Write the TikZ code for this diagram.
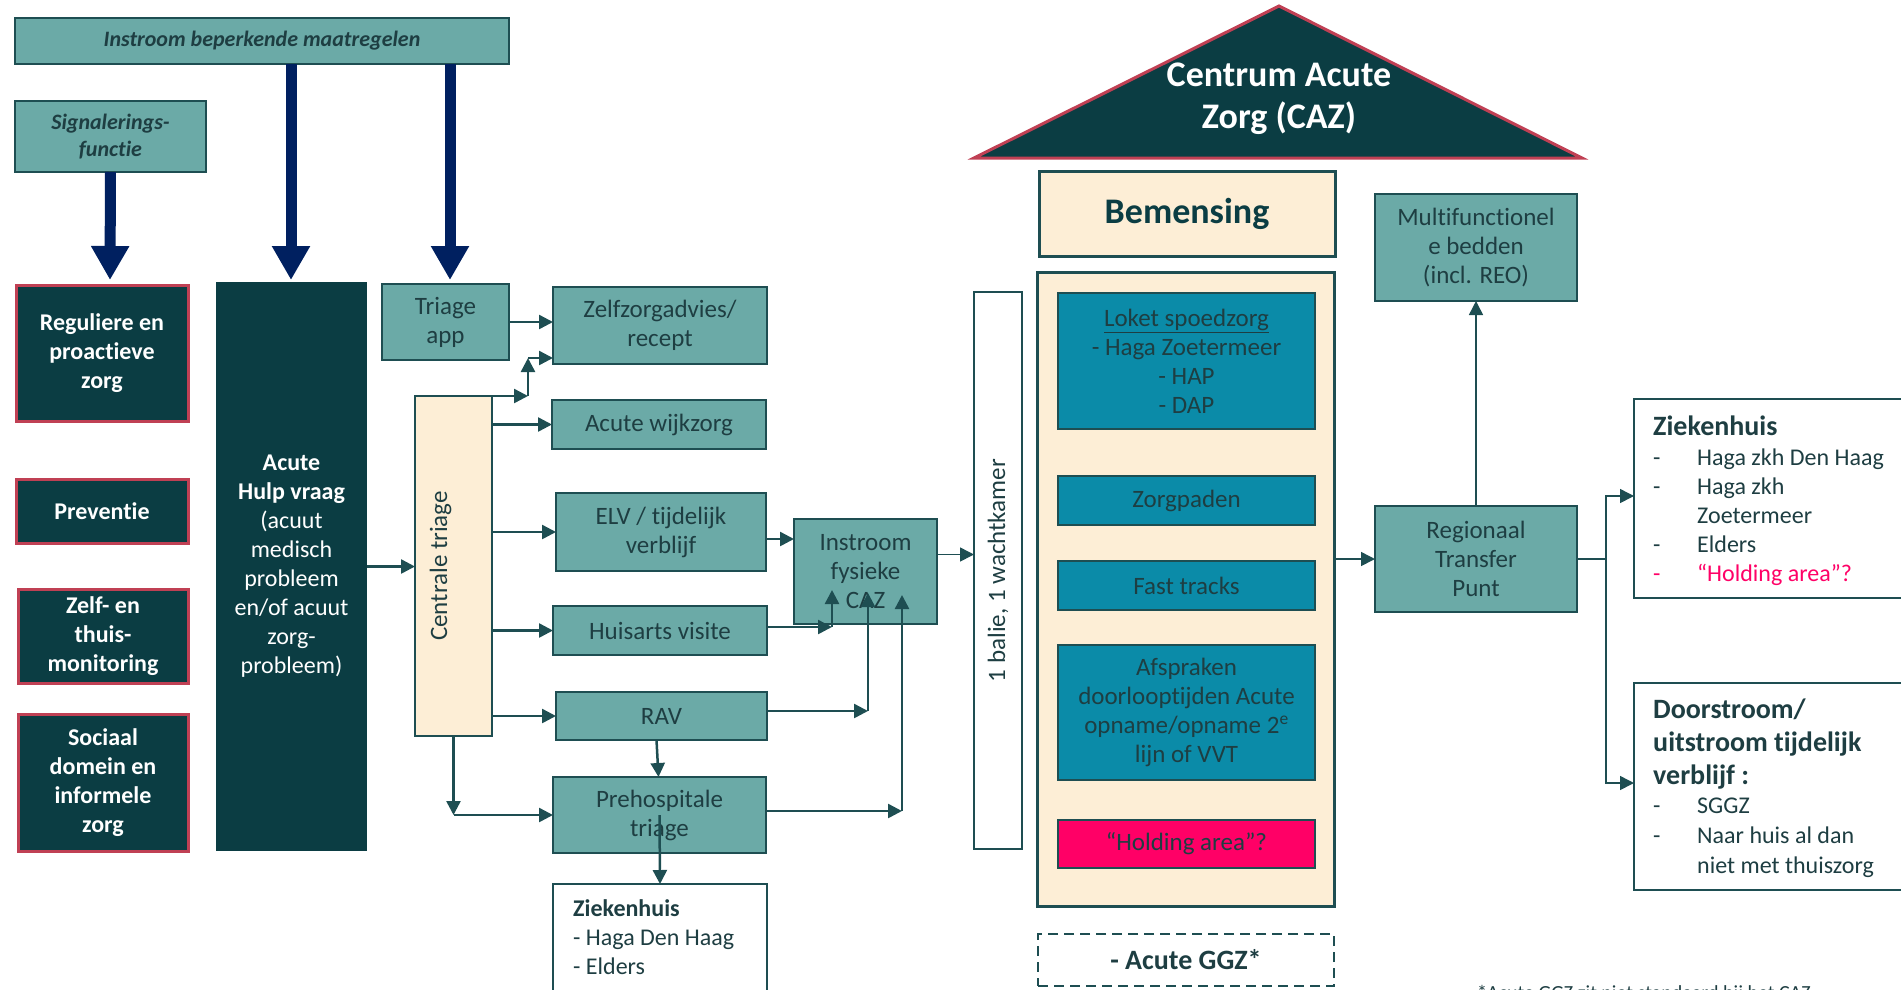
\documentclass[tikz,border=0pt]{standalone}
\usepackage{fontspec}
\setmainfont{Carlito}[Ligatures={TeX,NoCommon}]
\usepackage{graphicx}
\usetikzlibrary{arrows.meta}
\definecolor{tealfill}{RGB}{107,170,167}
\definecolor{boxline}{RGB}{30,78,82}
\definecolor{darkfill}{RGB}{11,61,67}
\definecolor{redline}{RGB}{192,64,84}
\definecolor{creamfill}{RGB}{253,238,214}
\definecolor{blueteal}{RGB}{11,139,168}
\definecolor{hotpink}{RGB}{255,0,102}
\definecolor{navyarr}{RGB}{0,32,96}
\definecolor{txtc}{RGB}{30,62,66}
\tikzset{
  wh/.style 2 args={minimum width=#1, minimum height=#2},
  base/.style={anchor=north west, inner sep=0pt, outer sep=0pt, align=center, font=\fontsize{25}{29}\selectfont},
  tealbox/.style={base, draw=boxline, line width=2.5pt, fill=tealfill, text=txtc},
  darkbox/.style={base, draw=redline, line width=3pt, fill=darkfill, text=white, font=\fontsize{24}{29}\selectfont\bfseries},
  creambox/.style={base, draw=boxline, line width=2.5pt, fill=creamfill, text=txtc},
  bluebox/.style={base, draw=boxline, line width=2pt, fill=blueteal, text=txtc},
  whitebox/.style={base, draw=boxline, line width=2.5pt, fill=white, text=txtc},
  listtxt/.style={anchor=north west, inner sep=0pt, align=left, text=txtc},
  arr/.style={draw=boxline, line width=2.5pt, -{Triangle[length=14pt,width=14pt]}},
  thinarr/.style={draw=boxline, line width=1.5pt, -{Triangle[length=14pt,width=14pt]}},
  bigarr/.style={draw=navyarr, line width=11pt, -{Triangle[length=34pt,width=36pt]}},
}

\begin{document}
\begin{tikzpicture}[x=1pt,y=-1pt]
  \path[use as bounding box, clip] (0,0) rectangle (1901,989);

  % instroom en signalering
  \node[tealbox, wh={494pt}{46pt}, font=\fontsize{22}{27}\selectfont\bfseries\itshape] (ib) at (15,18) {Instroom beperkende maatregelen};
  \node[tealbox, wh={191pt}{71pt}, font=\fontsize{22}{27}\selectfont\bfseries\itshape] (sf) at (15,101) {Signalerings-\\functie};

  % linker kolom
  \node[darkbox, wh={172pt}{136pt}] (rg) at (16,285) {Reguliere en\\proactieve\\zorg};
  \node[darkbox, wh={172pt}{64pt}] (pv) at (16,479) {Preventie};
  \node[darkbox, wh={170pt}{94pt}] (zt) at (18,589) {Zelf- en\\thuis-\\monitoring};
  \node[darkbox, wh={170pt}{137pt}] (sd) at (18,714) {Sociaal\\domein en\\informele\\zorg};
  \node[darkbox, draw=none, wh={151pt}{569pt}, font=\fontsize{24}{29}\selectfont] (ah) at (216,282)
    {{\bfseries Acute}\\{\bfseries Hulp vraag}\\(acuut\\medisch\\probleem\\en/of acuut\\zorg-\\probleem)};

  % triage
  \node[tealbox, wh={127pt}{76pt}] (ta) at (382,284) {Triage\\app};
  \node[creambox, wh={77pt}{340pt}, line width=2pt] (ct) at (415,396) {\hspace*{-26pt}\rotatebox{90}{Centrale triage}};
  \node[tealbox, wh={214pt}{77pt}] (zz) at (553,287) {Zelfzorgadvies/\\recept};
  \node[tealbox, wh={214pt}{49pt}] (aw) at (552,400) {Acute wijkzorg};
  \node[tealbox, wh={210pt}{78pt}] (elv) at (556,493) {ELV / tijdelijk\\verblijf};
  \node[tealbox, wh={214pt}{49pt}] (hv) at (553,606) {Huisarts visite};
  \node[tealbox, wh={211pt}{48pt}] (rav) at (556,692) {RAV};
  \node[tealbox, wh={213pt}{76pt}] (ph) at (553,777) {Prehospitale\\triage};
  \node[whitebox, wh={214pt}{130pt}] (zl) at (553,884) {};
  \node[listtxt, font=\fontsize{24}{29}\selectfont] (zlt) at (573,899) {{\bfseries Ziekenhuis}\\- Haga Den Haag\\- Elders};
  \node[tealbox, wh={143pt}{105pt}] (ifc) at (794,519) {Instroom\\fysieke\\CAZ};
  \node[whitebox, wh={48pt}{557pt}, line width=2pt] (bal) at (974,292) {\rotatebox{90}{1 balie, 1 wachtkamer}};

  % CAZ
  \draw[draw=redline, line width=3pt, fill=darkfill] (974,158) -- (1279,6) -- (1582,158) -- cycle;
  \node[inner sep=0pt, align=center, text=white, font=\fontsize{36}{42}\selectfont\bfseries] (roof) at (1279,99) {Centrum Acute\\Zorg (CAZ)};
  \node[creambox, wh={296pt}{85pt}, line width=3pt, text=darkfill, font=\fontsize{36}{42}\selectfont\bfseries] (bm) at (1039,171) {Bemensing};
  \node[creambox, wh={297pt}{634pt}, line width=3pt] (cb) at (1037,272) {};
  \node[bluebox, wh={257pt}{136pt}] (lk) at (1058,293) {\underline{Loket spoedzorg}\\- Haga Zoetermeer\\- HAP\\- DAP};
  \node[bluebox, wh={257pt}{49pt}] (zp) at (1058,476) {Zorgpaden};
  \node[bluebox, wh={257pt}{49pt}] (ft) at (1058,561) {Fast tracks};
  \node[bluebox, wh={257pt}{135pt}] (af) at (1058,645) {Afspraken\\doorlooptijden Acute\\opname/opname 2\textsuperscript{e}\\lijn of VVT};
  \node[bluebox, fill=hotpink, wh={257pt}{48pt}] (ha) at (1058,820) {“Holding area”?};
  \node[base, draw=boxline, line width=2.5pt, dash pattern=on 10pt off 6pt, text=txtc, wh={296pt}{52pt}, font=\fontsize{28}{32}\selectfont\bfseries] (gz) at (1038,934) {- Acute GGZ*};

  % uitstroom
  \node[tealbox, wh={202pt}{107pt}] (mf) at (1375,194) {Multifunctionel\\e bedden\\(incl. REO)};
  \node[tealbox, wh={202pt}{106pt}] (rtp) at (1375,506) {Regionaal\\Transfer\\Punt};
  \node[whitebox, wh={280pt}{199pt}] (zr) at (1634,399) {};
  \node[listtxt, font=\fontsize{28}{33}\selectfont\bfseries] (zrh) at (1653,416) {Ziekenhuis};
  \node[listtxt, font=\fontsize{24}{29}\selectfont] (zri) at (1653,449)
    {\makebox[44pt][l]{-}Haga zkh Den Haag\\\makebox[44pt][l]{-}Haga zkh\\\hspace*{44pt}Zoetermeer\\\makebox[44pt][l]{-}Elders\\{\color{hotpink}\makebox[44pt][l]{-}“Holding area”?}};
  \node[whitebox, wh={280pt}{207pt}] (dr) at (1634,683) {};
  \node[listtxt, font=\fontsize{28}{33}\selectfont\bfseries] (drh) at (1653,699) {Doorstroom/\\uitstroom tijdelijk\\verblijf :};
  \node[listtxt, font=\fontsize{24}{30}\selectfont] (dri) at (1653,798)
    {\makebox[44pt][l]{-}SGGZ\\\makebox[44pt][l]{-}Naar huis al dan\\\hspace*{44pt}niet met thuiszorg};
  \node[anchor=base west, inner sep=0pt, text=txtc, font=\fontsize{20}{24}\selectfont] (fn) at (1477,999) {*Acute GGZ zit niet standaard bij het CAZ};

  % dikke pijlen
  \coordinate (n1) at (110,280);
  \coordinate (n2) at (291,280);
  \coordinate (n3) at (450,280);
  \draw[bigarr] (sf.south) -- (n1);
  \draw[bigarr] (ib.south -| n2) -- (n2);
  \draw[bigarr] (ib.south -| n3) -- (n3);

  % verbindingen triage
  \coordinate (k1) at (528,396);
  \coordinate (k2) at (528,358);
  \draw[arr] (ah.east) -- (ct.west |- ah.east);
  \draw[arr] (ta.east) -- (ta.east -| zz.west);
  \draw[arr] (ct.north east) -- (k1);
  \draw[arr] (k1) -- (k2);
  \draw[arr] (k2) -- (k2 -| zz.west);
  \draw[arr] (ct.east |- aw.west) -- (aw.west);
  \draw[arr] (ct.east |- elv.west) -- (elv.west);
  \draw[arr] (ct.east |- hv.west) -- (hv.west);
  \draw[arr] (ct.east |- rav.west) -- (rav.west);
  \coordinate (c1) at (ct.south |- ph.west);
  \draw[arr] (ct.south) -- (c1);
  \draw[arr] (c1) -- (ph.west);
  \draw[arr] ([xshift=-5pt]rav.south) -- ([xshift=-1pt]ph.north);
  \draw[arr] (ph.center) -- (zl.north);

  % naar instroom fysieke CAZ
  \coordinate (h1) at (832,627);
  \coordinate (h2) at (832,590);
  \coordinate (r1) at (868,711);
  \coordinate (r2) at (868,593);
  \coordinate (p1) at (902,811);
  \coordinate (p2) at (902,595);
  \draw[arr] ([yshift=-7pt]elv.east) -- ([yshift=-7pt]elv.east -| ifc.west);
  \draw[arr] (hv.east |- h1) -- (h1);
  \draw[arr] (h1) -- (h2);
  \draw[arr] (rav.east |- r1) -- (r1);
  \draw[arr] (r1) -- (r2);
  \draw[arr] (ph.east |- p1) -- (p1);
  \draw[arr] (p1) -- (p2);
  \draw[thinarr] ([yshift=17pt]ifc.east) -- ([yshift=17pt]ifc.east -| bal.west);

  % uitstroom
  \coordinate (s1) at (1606,559);
  \coordinate (sa) at (1606,496);
  \coordinate (sb) at (1606,783);
  \draw[thinarr] (cb.east |- rtp.west) -- (rtp.west);
  \draw[thinarr] (rtp.north) -- (mf.south);
  \draw[thinarr] (rtp.east) -- (s1) -- (sa) -- (sa -| zr.west);
  \draw[thinarr] (s1) -- (sb) -- (sb -| dr.west);
\end{tikzpicture}
\end{document}
